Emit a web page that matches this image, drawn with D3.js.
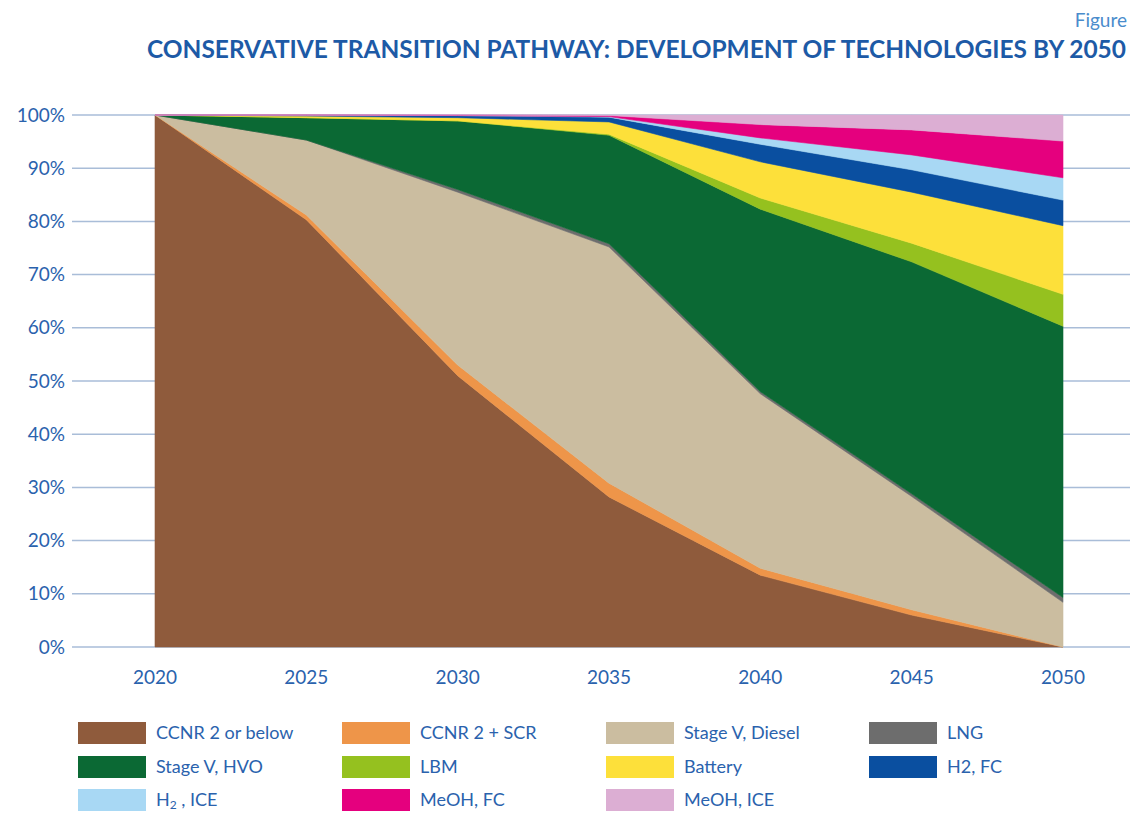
<!DOCTYPE html>
<html>
<head>
<meta charset="utf-8">
<script src="https://cdn.jsdelivr.net/npm/d3@7"></script>
<style>
  html, body { margin: 0; padding: 0; background: #fff; }
  svg { display: block; }
  text { font-family: Lato, "Open Sans", sans-serif; }
</style>
</head>
<body>
<svg id="chart" width="1130" height="813"></svg>
<script>
// ---- Data (percent share by year) ----
const years = [2020, 2025, 2030, 2035, 2040, 2045, 2050];
const seriesNames = ["CCNR 2 or below", "CCNR 2 + SCR", "Stage V, Diesel", "LNG", "Stage V, HVO", "LBM", "Battery", "H2, FC", "H2 , ICE", "MeOH, FC", "MeOH, ICE"];
const ccnr2Below   = [100, 80.3, 51.0, 28.2, 13.5, 6.0, 0.0];
const ccnr2Scr     = [0, 0.9, 2.0, 2.6, 1.3, 1.0, 0.0];
const stageVDiesel = [0, 14.1, 32.5, 44.4, 32.8, 21.3, 8.4];
const lng          = [0, 0.0, 0.5, 0.6, 0.4, 0.5, 0.9];
const stageVHvo    = [0, 4.2, 12.9, 20.4, 34.3, 43.6, 51.0];
const lbm          = [0, 0.0, 0.0, 0.2, 2.1, 3.5, 6.0];
const battery      = [0, 0.3, 0.6, 2.3, 6.8, 9.6, 12.9];
const h2Fc         = [0, 0.2, 0.4, 0.9, 3.3, 4.2, 4.8];
const h2Ice        = [0, 0.0, 0.0, 0.1, 1.2, 2.8, 4.2];
const meohFc       = [0, 0.0, 0.1, 0.2, 2.5, 4.7, 6.9];
const meohIce      = [0, 0.0, 0.0, 0.1, 1.8, 2.8, 4.9];
const yTicks = [0, 10, 20, 30, 40, 50, 60, 70, 80, 90, 100];

const seriesValues = [ccnr2Below, ccnr2Scr, stageVDiesel, lng, stageVHvo, lbm, battery, h2Fc, h2Ice, meohFc, meohIce];
const colors = ["#8f5b3c", "#ee9549", "#cbbda0", "#6d6d6d", "#0b6934", "#95c11f", "#fde03a", "#0a4fa0", "#a8d8f4", "#e5007e", "#dcaed3"];

// ---- Build table ----
const table = years.map((y, i) => {
  const row = { year: y };
  seriesNames.forEach((n, k) => row[n] = seriesValues[k][i]);
  return row;
});

const svg = d3.select("#chart");
const blue = "#2a62ad";

const x = d3.scaleLinear().domain([2020, 2050]).range([155, 1063]);
const y = d3.scaleLinear().domain([0, 100]).range([647, 115]);

// Title
svg.append("text").attr("x", 1127).attr("y", 27).attr("text-anchor", "end")
  .attr("font-size", 19).attr("fill", "#4a8ccc").text("Figure");
svg.append("text").attr("x", 147).attr("y", 58)
  .attr("font-size", 24).attr("font-weight", 700).attr("fill", "#1d5aa6")
  .attr("textLength", 979).attr("lengthAdjust", "spacingAndGlyphs")
  .text("CONSERVATIVE TRANSITION PATHWAY: DEVELOPMENT OF TECHNOLOGIES BY 2050");

// Gridlines
svg.append("g").selectAll("line").data(yTicks).join("line")
  .attr("x1", 72).attr("x2", 1130)
  .attr("y1", d => y(d)).attr("y2", d => y(d))
  .attr("stroke", "#a9bdd8").attr("stroke-width", 1.5);

// Y labels
svg.append("g").selectAll("text").data(yTicks).join("text")
  .attr("x", 65).attr("y", d => y(d)).attr("dy", "0.35em")
  .attr("text-anchor", "end").attr("font-size", 19).attr("fill", blue)
  .text(d => d + "%");

// X labels
svg.append("g").selectAll("text").data(years).join("text")
  .attr("x", d => x(d)).attr("y", 684)
  .attr("text-anchor", "middle").attr("font-size", 19).attr("fill", blue)
  .text(d => d);

// Stack
const stack = d3.stack().keys(seriesNames);
const layers = stack(table);
const area = d3.area()
  .x(d => x(d.data.year))
  .y0(d => y(d[0]))
  .y1(d => y(d[1]));

svg.append("g").selectAll("path").data(layers).join("path")
  .attr("d", area)
  .attr("fill", (d, i) => colors[i])
  .attr("stroke", (d, i) => colors[i])
  .attr("stroke-width", 0.6);

// Legend
const colX = [78, 342, 606, 869];
const rowY = [733, 767, 800];
const lg = svg.append("g").selectAll("g").data(seriesNames).join("g")
  .attr("transform", (d, i) => `translate(${colX[i % 4]},${rowY[Math.floor(i / 4)]})`);
lg.append("rect").attr("x", 0).attr("y", -11).attr("width", 68).attr("height", 22)
  .attr("fill", (d, i) => colors[i]);
lg.append("text").attr("x", 78).attr("y", 0).attr("dy", "0.35em")
  .attr("font-size", 18).attr("fill", blue)
  .each(function (d) {
    const t = d3.select(this);
    if (d === "H2 , ICE") {
      t.append("tspan").text("H");
      t.append("tspan").attr("font-size", 12).attr("dy", 3).text("2");
      t.append("tspan").attr("dy", -3).text(" , ICE");
    } else {
      t.text(d);
    }
  });
</script>
</body>
</html>
